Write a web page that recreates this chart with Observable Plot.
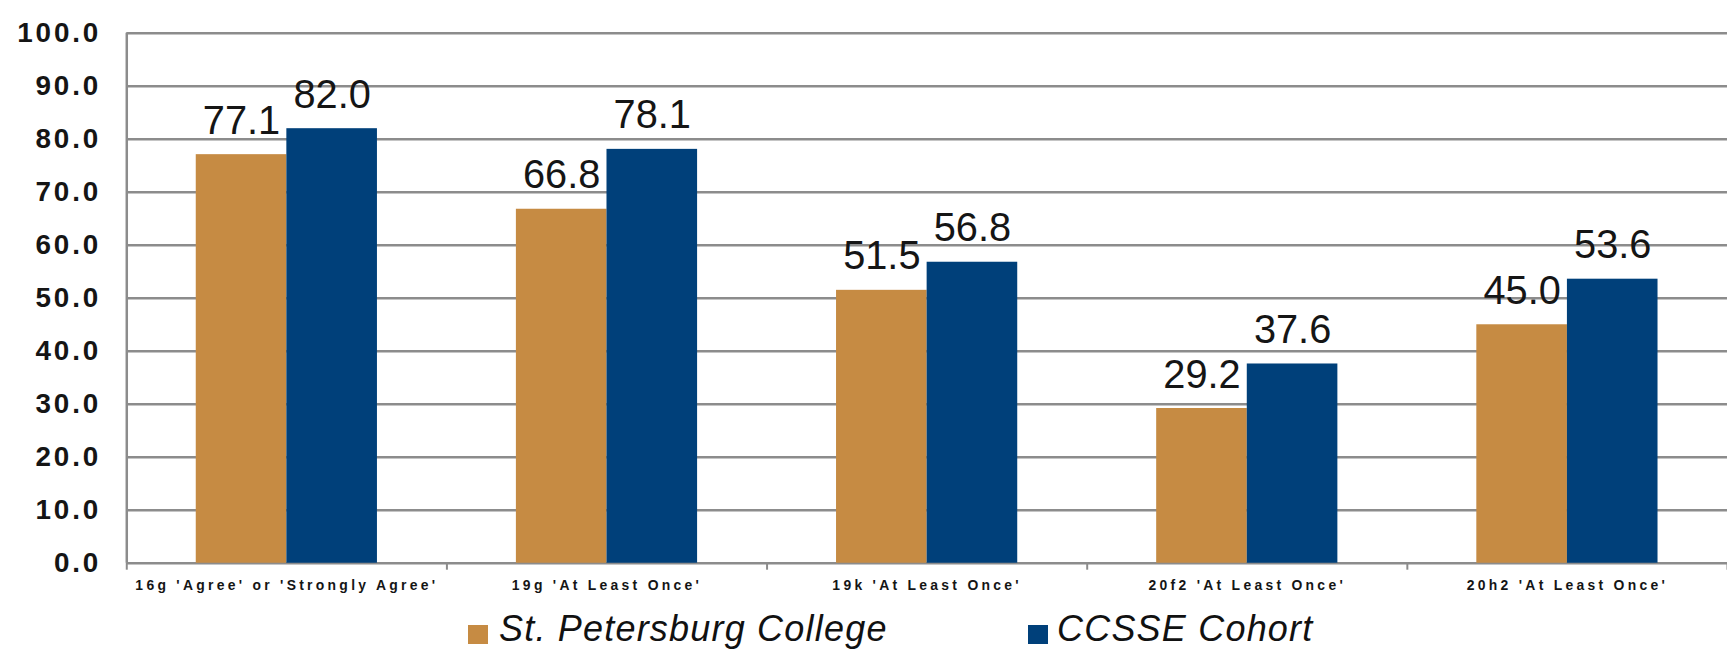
<!DOCTYPE html>
<html>
<head>
<meta charset="utf-8">
<script src="https://cdn.jsdelivr.net/npm/d3@7"></script>
<script src="https://cdn.jsdelivr.net/npm/@observablehq/plot@0.6"></script>
<style>
  html, body { margin: 0; padding: 0; background: #fff; overflow: hidden; width: 1727px; height: 650px; }
  #wrap { position: relative; width: 1727px; height: 650px; overflow: hidden; font-family: "Liberation Sans", Arial, sans-serif; }
  #chart svg { display: block; }
  g[aria-label="y-axis tick label"] text { letter-spacing: 2.8px; }
  g[aria-label="x-axis tick label"] text { letter-spacing: 3.3px; }
  .legend-item { position: absolute; top: 608px; font-size: 36px; font-style: italic; color: #111; letter-spacing: 1.2px; white-space: nowrap; }
  .swatch { position: absolute; top: 625px; width: 20px; height: 19px; }
</style>
</head>
<body>
<div id="wrap">
  <div id="chart"></div>
  <div id="legend"></div>
</div>
<script>
// ---- data ----
const categories = [
  "16g 'Agree' or 'Strongly Agree'",
  "19g 'At Least Once'",
  "19k 'At Least Once'",
  "20f2 'At Least Once'",
  "20h2 'At Least Once'"
];
const series = ["St. Petersburg College", "CCSSE Cohort"];
const stPetersburg = [77.1, 66.8, 51.5, 29.2, 45.0];
const ccsseCohort = [82.0, 78.1, 56.8, 37.6, 53.6];
const yTicks = [0, 10, 20, 30, 40, 50, 60, 70, 80, 90, 100];
const colors = ["#C68B43", "#00407A"];

// ---- table built from arrays ----
const seriesValues = [stPetersburg, ccsseCohort];
const outerPad = 0.217;   // fraction of category band left empty at each side
const barW = 0.283;       // fraction of category band per bar
const rows = [];
categories.forEach((c, i) => {
  series.forEach((s, j) => {
    rows.push({cat: c, idx: i, series: s, sIdx: j, value: seriesValues[j][i]});
  });
});
const x1 = d => d.idx + outerPad + d.sIdx * barW;
const x2 = d => d.idx + outerPad + (d.sIdx + 1) * barW;
const xc = d => d.idx + outerPad + (d.sIdx + 0.5) * barW;

const grid = "#8c8c8c";
const chart = Plot.plot({
  width: 1737,
  height: 612,
  marginLeft: 127,
  marginRight: 0,
  marginTop: 33,
  marginBottom: 46,
  style: {fontFamily: "'Liberation Sans', Arial, sans-serif", background: "#fff", color: "#111"},
  x: {type: "linear", domain: [0, categories.length], axis: null},
  y: {domain: [0, 100], axis: null},
  color: {domain: series, range: colors},
  marks: [
    Plot.ruleY(yTicks, {stroke: grid, strokeWidth: 2.5}),
    Plot.ruleX([0], {stroke: grid, strokeWidth: 2.5}),
    Plot.rectY(rows, {x1, x2, y1: 0, y2: "value", fill: "series"}),
    Plot.text(rows, {x: xc, y: "value", text: d => d.value.toFixed(1), lineAnchor: "bottom", dy: -21, fontSize: 40, fill: "#151515"}),
    Plot.axisY({ticks: yTicks, tickSize: 0, tickPadding: 26, label: null, tickFormat: d => d.toFixed(1), fontSize: 28, fontWeight: "bold", fill: "#151515"}),
    Plot.axisX({ticks: d3.range(0, categories.length + 1), tickSize: 7, label: null, tickFormat: () => "", stroke: grid, strokeWidth: 2}),
    Plot.axisX({ticks: categories.map((c, i) => i + 0.5), tickSize: 0, tickPadding: 17, label: null, tickFormat: d => categories[Math.floor(d)], fontSize: 14, fontWeight: "bold", fill: "#151515"})
  ]
});
document.getElementById("chart").appendChild(chart);

// ---- legend (HTML, below the plot) ----
const legendPos = [{sw: 468, tx: 499}, {sw: 1028, tx: 1057}];
const legend = document.getElementById("legend");
series.forEach((s, j) => {
  const sw = document.createElement("div");
  sw.className = "swatch";
  sw.style.left = legendPos[j].sw + "px";
  sw.style.background = colors[j];
  legend.appendChild(sw);
  const t = document.createElement("div");
  t.className = "legend-item";
  t.style.left = legendPos[j].tx + "px";
  t.textContent = s;
  legend.appendChild(t);
});
</script>
</body>
</html>
